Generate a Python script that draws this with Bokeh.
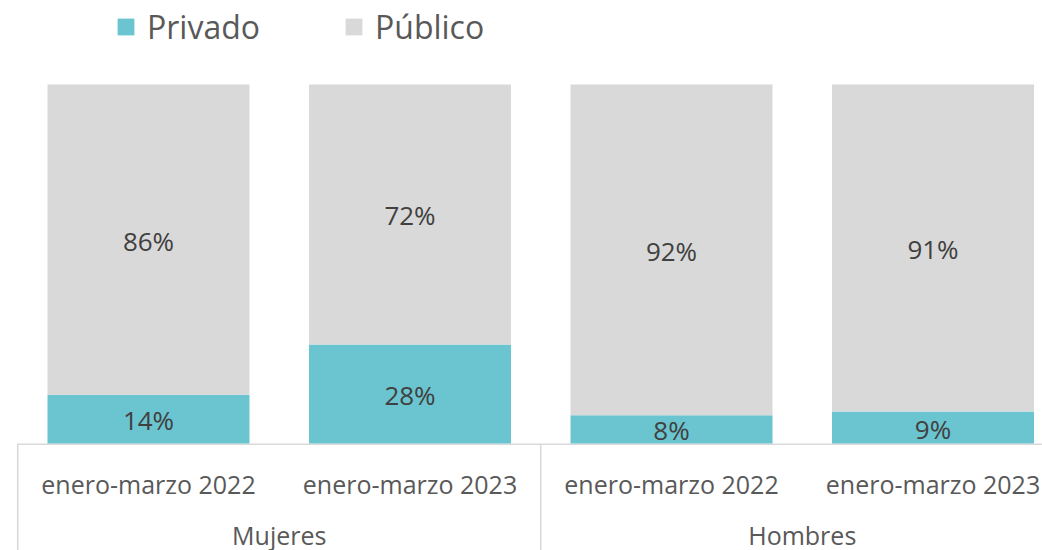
from bokeh.plotting import figure
from bokeh.models import Range1d, ColumnDataSource, Legend, LegendItem
from bokeh.core.properties import value
from bokeh.embed import file_html
from bokeh.resources import INLINE

# ---------------- data ----------------
groups = ["Mujeres", "Hombres"]
bar_groups = ["Mujeres", "Mujeres", "Hombres", "Hombres"]
periods = ["enero-marzo 2022", "enero-marzo 2023", "enero-marzo 2022", "enero-marzo 2023"]
series = ["Privado", "Público"]
privado = [13.6, 27.6, 7.9, 8.9]
publico = [86.4, 72.4, 92.1, 91.1]
privado_labels = ["14%", "28%", "8%", "9%"]
publico_labels = ["86%", "72%", "92%", "91%"]
colors = ["#6BC5D0", "#D9D9D9"]

# ---------------- layout constants (pixels) ----------------
W, H = 1042, 550
SLOT_PX = 261.5          # width of one category slot
LEFT_PX = 17.25          # slot 0 start, from figure left
BOTTOM_PX = 107          # baseline (0 %) from figure bottom
UNIT_PX = 3.59           # pixels per percentage point
FONT = "Open Sans"

x_range = Range1d(-LEFT_PX / SLOT_PX, (W - LEFT_PX) / SLOT_PX)
y_range = Range1d(-BOTTOM_PX / UNIT_PX, (H - BOTTOM_PX) / UNIT_PX)

p = figure(width=W, height=H, x_range=x_range, y_range=y_range,
           output_backend="svg", toolbar_location=None,
           x_axis_location=None, y_axis_location=None, min_border=0)
p.grid.visible = False
p.outline_line_color = None
p.background_fill_color = "white"
p.border_fill_color = "white"

xs = [i + 0.5 for i in range(len(periods))]
src = ColumnDataSource(dict(x=xs, Privado=privado, Público=publico))

# axis line and group separators
gridc = "#D9D9D9"
p.segment(x0=[0], y0=[-0.2], x1=[x_range.end], y1=[-0.2], line_color=gridc, line_width=1.6)
bounds = [0]
for g in groups:
    bounds.append(bounds[-1] + bar_groups.count(g))
p.segment(x0=bounds, y0=[0] * len(bounds), x1=bounds, y1=[y_range.start] * len(bounds),
          line_color=gridc, line_width=1.6)

rs = p.vbar_stack(series, x="x", width=0.7725, color=colors, line_color=None, source=src)

# data labels
pv_mid = [v / 2 for v in privado]
pu_mid = [a + b / 2 for a, b in zip(privado, publico)]
lab = ColumnDataSource(dict(x=xs + xs, y=pv_mid + pu_mid, t=privado_labels + publico_labels))
p.text(x="x", y="y", text="t", source=lab, text_align="center", text_baseline="middle",
       y_offset=1, text_font=value(FONT), text_font_size="26px", text_color="#404040")

# category labels
p.text(x=xs, y=[-40 / UNIT_PX] * len(xs), text=periods, text_align="center",
       text_baseline="middle", text_font=value(FONT), text_font_size="25px",
       text_color="#595959")
gx = [(bounds[i] + bounds[i + 1]) / 2 for i in range(len(groups))]
p.text(x=gx, y=[-91 / UNIT_PX] * len(gx), text=groups, text_align="center",
       text_baseline="middle", text_font=value(FONT), text_font_size="25px",
       text_color="#595959")

legend = Legend(items=[LegendItem(label=s, renderers=[r]) for s, r in zip(series, rs)],
                orientation="horizontal", location=(115, 502),
                glyph_width=21, glyph_height=21, label_standoff=11, spacing=83,
                padding=0, margin=0, border_line_color=None, background_fill_alpha=0,
                label_text_font=FONT, label_text_font_size="32px", label_text_color="#595959")
p.add_layout(legend)

open("out.html", "w").write(file_html(p, INLINE))
